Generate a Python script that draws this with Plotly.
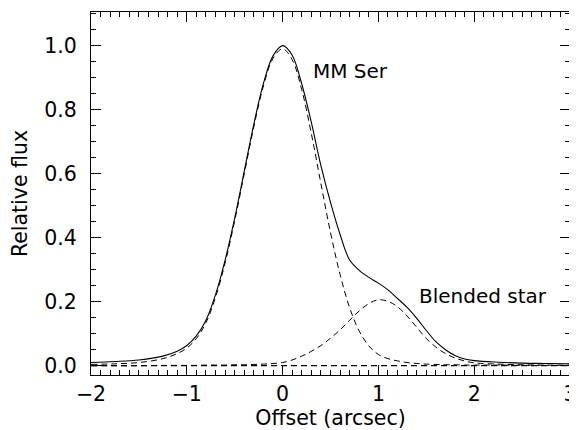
import plotly.graph_objects as go

# Offset grid (arcsec)
offset = [-2.0, -1.75, -1.5, -1.25, -1.1, -1.0, -0.9, -0.8, -0.7, -0.6, -0.5, -0.4, -0.3, -0.2, -0.1,
          0.0, 0.1, 0.2, 0.3, 0.4, 0.5, 0.6, 0.7, 0.8, 0.9, 1.0, 1.1, 1.2, 1.3, 1.4, 1.5, 1.6,
          1.7, 1.8, 1.9, 2.0, 2.25, 2.5, 2.75, 3.0]

# MM Ser component (dashed)
mm_ser = [0.004, 0.006, 0.010, 0.022, 0.038, 0.055, 0.085, 0.134, 0.214, 0.321, 0.453, 0.600, 0.747, 0.874, 0.960,
          0.990, 0.956, 0.862, 0.725, 0.569, 0.416, 0.285, 0.181, 0.108, 0.062, 0.035, 0.022, 0.015, 0.010, 0.007, 0.005, 0.004,
          0.003, 0.003, 0.002, 0.002, 0.002, 0.001, 0.001, 0.001]

# Blended star component (dashed)
blended = [0.000, 0.000, 0.000, 0.001, 0.001, 0.001, 0.001, 0.002, 0.002, 0.002, 0.003, 0.003, 0.004, 0.005, 0.007,
           0.010, 0.018, 0.030, 0.045, 0.063, 0.086, 0.112, 0.142, 0.171, 0.194, 0.206, 0.201, 0.184, 0.155, 0.120, 0.085, 0.058,
           0.038, 0.024, 0.015, 0.009, 0.005, 0.003, 0.002, 0.002]

# Total profile (solid)
total = [0.010, 0.013, 0.018, 0.030, 0.045, 0.063, 0.093, 0.142, 0.222, 0.330, 0.461, 0.608, 0.755, 0.882, 0.968,
         1.000, 0.970, 0.880, 0.760, 0.625, 0.510, 0.410, 0.330, 0.298, 0.276, 0.258, 0.237, 0.210, 0.182, 0.148, 0.110, 0.075,
         0.050, 0.032, 0.021, 0.016, 0.011, 0.008, 0.007, 0.006]

# Background level (dashed, zero)
baseline_x = [-2.0, 3.0]
baseline_y = [0.0, 0.0]

x_ticks = [-2, -1, 0, 1, 2, 3]
y_ticks = [0.0, 0.2, 0.4, 0.6, 0.8, 1.0]
y_tick_text = ["0.0", "0.2", "0.4", "0.6", "0.8", "1.0"]

FONT = "DejaVu Sans"
dash = "6px,4px"

fig = go.Figure()
fig.add_trace(go.Scatter(x=baseline_x, y=baseline_y, mode="lines",
                         line=dict(color="black", width=1.2, dash=dash), hoverinfo="skip"))
fig.add_trace(go.Scatter(x=offset, y=mm_ser, mode="lines", line_shape="spline",
                         line=dict(color="black", width=1, dash=dash)))
fig.add_trace(go.Scatter(x=offset, y=blended, mode="lines", line_shape="spline",
                         line=dict(color="black", width=1, dash=dash)))
fig.add_trace(go.Scatter(x=offset, y=total, mode="lines", line_shape="spline",
                         line=dict(color="black", width=1.1)))

fig.add_annotation(x=0.30, y=0.92, text="MM Ser", showarrow=False, xanchor="left", yanchor="middle",
                   font=dict(family=FONT, size=20, color="black"))
fig.add_annotation(x=1.40, y=0.217, text="Blended star", showarrow=False, xanchor="left", yanchor="middle",
                   font=dict(family=FONT, size=20, color="black"))

axis_common = dict(showline=True, linecolor="black", linewidth=1, mirror="allticks",
                   ticks="inside", ticklen=10, tickwidth=1, tickcolor="black",
                   showgrid=False, zeroline=False, automargin=False,
                   tickfont=dict(family=FONT, size=20.5, color="black"))

fig.update_xaxes(range=[-2, 3], tickvals=x_ticks,
                 minor=dict(dtick=0.1, ticks="inside", ticklen=5, tickcolor="black", showgrid=False),
                 title=dict(text="Offset (arcsec)", font=dict(family=FONT, size=20.5, color="black"), standoff=9),
                 ticklabelstandoff=0,
                 **axis_common)
fig.update_yaxes(range=[-0.029, 1.105], tickvals=y_ticks, ticktext=y_tick_text,
                 minor=dict(dtick=0.05, ticks="inside", ticklen=5, tickcolor="black", showgrid=False),
                 title=dict(text="Relative flux", font=dict(family=FONT, size=20.5, color="black"), standoff=12),
                 ticklabelstandoff=9,
                 **axis_common)

# The page body keeps its default 8px margin, so the figure is sized to fit the
# 577x430 window and the margins are offset by those 8px.
fig.update_layout(width=569, height=422, margin=dict(l=83, r=7, t=4, b=55, autoexpand=False),
                  paper_bgcolor="white", plot_bgcolor="white", showlegend=False,
                  font=dict(family=FONT, color="black"))

fig.write_html("out.html")
